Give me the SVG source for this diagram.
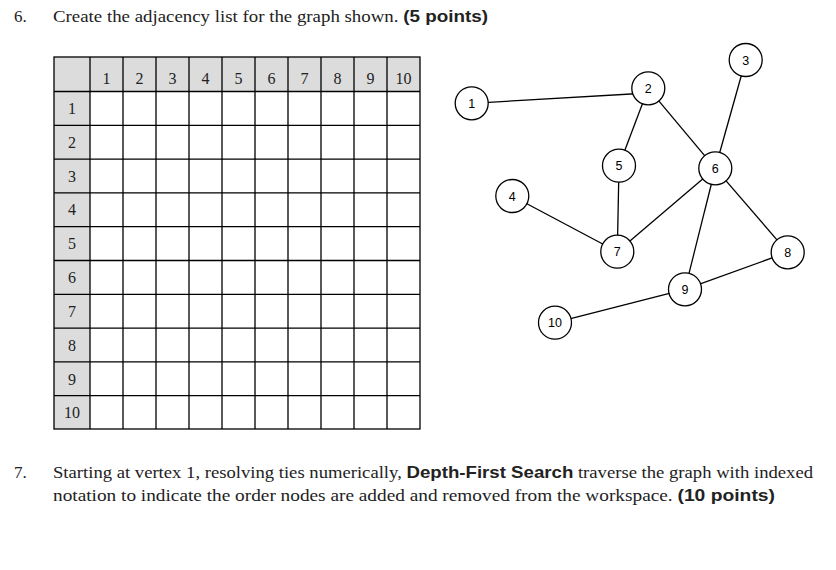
<svg xmlns="http://www.w3.org/2000/svg" width="836" height="570" viewBox="0 0 836 570">
<style>
.t{font-family:"Liberation Serif","DejaVu Serif",serif;font-size:17px;fill:#222}
.b{font-weight:bold;font-family:"Liberation Sans Narrow","Liberation Sans",sans-serif}
.c{font-family:"Liberation Serif",serif;font-size:16px;fill:#222;text-anchor:middle}
.g{stroke:#000;stroke-width:1.3;fill:none}
.n circle{fill:#fff;stroke:#000;stroke-width:1.3}
.n text{font-family:"Liberation Sans",Arial,sans-serif;font-size:12.5px;text-anchor:middle;fill:#000}
.e line{stroke:#000;stroke-width:1.3}
</style>
<rect width="836" height="570" fill="#fff"/>
<text class="t" x="14" y="22">6.</text>
<text class="t" x="53" y="22" textLength="435" lengthAdjust="spacingAndGlyphs">Create the adjacency list for the graph shown. <tspan class="b">(5 points)</tspan></text>
<g id="table">
<rect x="54" y="57" width="366" height="34.5" fill="#dcdcdc"/>
<rect x="54" y="57" width="36" height="372" fill="#dcdcdc"/>
<rect x="54" y="57" width="366" height="372" class="g"/>
<g class="g">
<path d="M90 57V429M123 57V429M156 57V429M189 57V429M222 57V429M255 57V429M288 57V429M321 57V429M354 57V429M387 57V429"/>
<path d="M54 91.5H420M54 125.3H420M54 159.1H420M54 192.9H420M54 226.7H420M54 260.5H420M54 294.3H420M54 328.1H420M54 361.9H420M54 395.7H420"/>
</g>
<g class="c">
<text x="106.5" y="84">1</text><text x="139.5" y="84">2</text><text x="172.5" y="84">3</text><text x="205.5" y="84">4</text><text x="238.5" y="84">5</text><text x="271.5" y="84">6</text><text x="304.5" y="84">7</text><text x="337.5" y="84">8</text><text x="370.5" y="84">9</text><text x="403.5" y="84">10</text>
<text x="72" y="114">1</text><text x="72" y="148">2</text><text x="72" y="182">3</text><text x="72" y="215">4</text><text x="72" y="249">5</text><text x="72" y="283">6</text><text x="72" y="317">7</text><text x="72" y="351">8</text><text x="72" y="385">9</text><text x="72" y="418">10</text>
</g>
</g>
<g id="edges" class="e">
<line x1="471.7" y1="103.3" x2="648.3" y2="93"/>
<line x1="648.3" y1="88.3" x2="619" y2="165.7"/>
<line x1="648.3" y1="88.3" x2="715.3" y2="168.3"/>
<line x1="745.7" y1="60" x2="715.3" y2="168.3"/>
<line x1="619" y1="165.7" x2="617.3" y2="251.7"/>
<line x1="512.3" y1="196" x2="617.3" y2="251.7"/>
<line x1="617.3" y1="251.7" x2="715.3" y2="168.3"/>
<line x1="715.3" y1="168.3" x2="685" y2="289.3"/>
<line x1="715.3" y1="168.3" x2="787.7" y2="252.3"/>
<line x1="787.7" y1="252.3" x2="685" y2="289.3"/>
<line x1="685" y1="289.3" x2="555" y2="322.7"/>
</g>
<g id="n1" class="n"><circle cx="471.7" cy="103.3" r="16.5"/><text x="471.7" y="107.8">1</text></g>
<g id="n2" class="n"><circle cx="648.3" cy="88.3" r="16.5"/><text x="648.3" y="92.8">2</text></g>
<g id="n3" class="n"><circle cx="745.7" cy="60" r="16.5"/><text x="745.7" y="64.5">3</text></g>
<g id="n4" class="n"><circle cx="512.3" cy="196" r="16.5"/><text x="512.3" y="200.5">4</text></g>
<g id="n5" class="n"><circle cx="619" cy="165.7" r="16.5"/><text x="619" y="170.2">5</text></g>
<g id="n6" class="n"><circle cx="715.3" cy="168.3" r="16.5"/><text x="715.3" y="172.8">6</text></g>
<g id="n7" class="n"><circle cx="617.3" cy="251.7" r="16.5"/><text x="617.3" y="256.2">7</text></g>
<g id="n8" class="n"><circle cx="787.7" cy="252.3" r="16.5"/><text x="787.7" y="256.8">8</text></g>
<g id="n9" class="n"><circle cx="685" cy="289.3" r="16.5"/><text x="685" y="293.8">9</text></g>
<g id="n10" class="n"><circle cx="555" cy="322.7" r="16.5"/><text x="555" y="327.2">10</text></g>
<text class="t" x="14" y="478">7.</text>
<text class="t" x="53" y="478" textLength="760" lengthAdjust="spacingAndGlyphs">Starting at vertex 1, resolving ties numerically, <tspan class="b">Depth-First Search</tspan> traverse the graph with indexed</text>
<text class="t" x="53" y="501" textLength="722" lengthAdjust="spacingAndGlyphs">notation to indicate the order nodes are added and removed from the workspace. <tspan class="b">(10 points)</tspan></text>
</svg>
